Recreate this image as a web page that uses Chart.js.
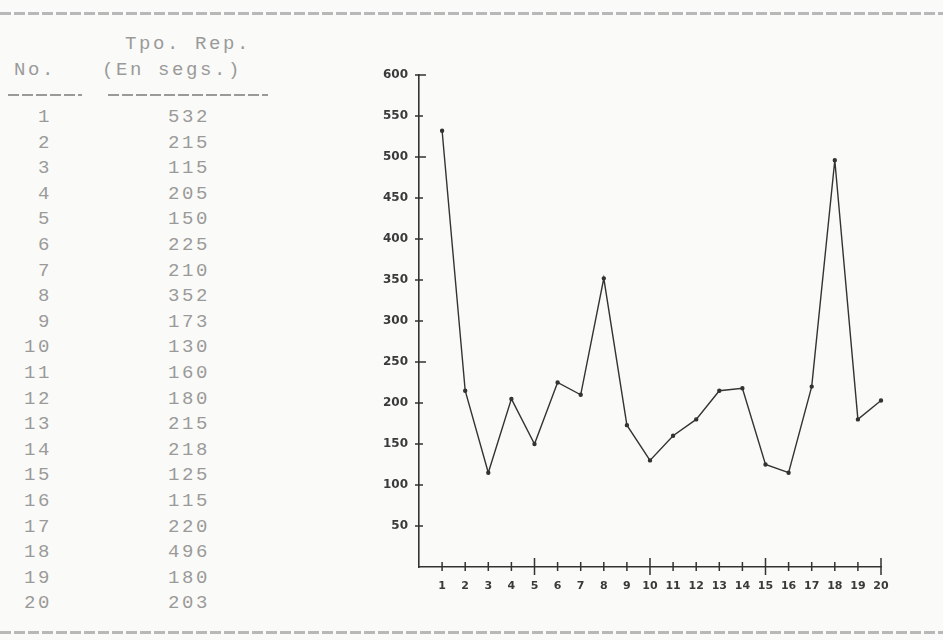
<!DOCTYPE html>
<html>
<head>
<meta charset="utf-8">
<script src="https://cdn.jsdelivr.net/npm/chart.js@4/dist/chart.umd.min.js"></script>
<style>
  body { margin: 0; background: #fafaf8; }
  #page { position: relative; width: 943px; height: 640px; overflow: hidden; background: #fafaf8; }
  .dash { position: absolute; left: 0; width: 943px; height: 3px;
          background: repeating-linear-gradient(90deg, #b8b8b8 0 11px, transparent 11px 14px); }
  .txt { position: absolute; font-family: "Liberation Mono", monospace; font-size: 19px;
         color: #9a9a9a; white-space: pre; line-height: 20px; letter-spacing: 2.6px; }
  .rule { position: absolute; height: 2px;
          background: repeating-linear-gradient(90deg, #9a9a9a 0 11px, transparent 11px 14px); }
  #chartBox { position: absolute; left: 350px; top: 50px; width: 580px; height: 560px; }
</style>
</head>
<body>
<div id="page">
  <div class="dash" style="top:12px"></div>
  <div class="dash" style="top:631px"></div>
  <div class="txt" style="left:125px; top:34px">Tpo. Rep.</div>
  <div class="txt" style="left:14px; top:60px">No.</div>
  <div class="txt" style="left:102px; top:60px">(En segs.)</div>
  <div class="rule" style="left:8px; top:94px; width:74px"></div>
  <div class="rule" style="left:108px; top:94px; width:160px"></div>
  <div id="rows"></div>
  <div id="chartBox"><canvas id="myChart"></canvas></div>
</div>
<script>
// Datos de la tabla y del grafico
var runNo = [1, 2, 3, 4, 5, 6, 7, 8, 9, 10, 11, 12, 13, 14, 15, 16, 17, 18, 19, 20];
var repTime = [532, 215, 115, 205, 150, 225, 210, 352, 173, 130, 160, 180, 215, 218, 125, 115, 220, 496, 180, 203];
var yTicks = [50, 100, 150, 200, 250, 300, 350, 400, 450, 500, 550, 600];

// Tabla de la izquierda
var rows = document.getElementById('rows');
for (var i = 0; i < runNo.length; i++) {
    var rowTop = 107 + i * 25.6;
    var a = document.createElement('div');
    a.className = 'txt';
    a.style.top = rowTop + 'px';
    a.style.left = '0px';
    a.style.width = '52px';
    a.style.textAlign = 'right';
    a.textContent = runNo[i];
    rows.appendChild(a);
    var b = document.createElement('div');
    b.className = 'txt';
    b.style.top = rowTop + 'px';
    b.style.left = '100px';
    b.style.width = '110px';
    b.style.textAlign = 'right';
    b.textContent = repTime[i];
    rows.appendChild(b);
}

// Marcas que cruzan los ejes
var crossTicks = {
    id: 'crossTicks',
    afterDraw: function(chart) {
        var c = chart.ctx;
        var xs = chart.scales.x, ys = chart.scales.y;
        var x0 = xs.getPixelForValue(0), y0 = ys.getPixelForValue(0);
        c.save();
        c.strokeStyle = '#333';
        c.lineWidth = 1.5;
        c.beginPath();
        runNo.forEach(function(n) {
            var px = xs.getPixelForValue(n);
            var h = (n % 5 === 0) ? 9 : 5;
            c.moveTo(px, y0 - h);
            c.lineTo(px, y0 + (n % 5 === 0 ? 8 : 4));
        });
        yTicks.forEach(function(v) {
            var py = ys.getPixelForValue(v);
            var w = (v === 500 || v === 250 || v === 600) ? 7 : 4;
            c.moveTo(x0 - 4, py);
            c.lineTo(x0 + w, py);
        });
        c.stroke();
        c.restore();
    }
};

var ctx = document.getElementById('myChart').getContext('2d');
var myChart = new Chart(ctx, {
    type: 'line',
    data: {
        datasets: [{
            label: 'Tpo. Rep. (En segs.)',
            data: runNo.map(function(n, i) { return { x: n, y: repTime[i] }; }),
            borderColor: '#333',
            backgroundColor: '#333',
            borderWidth: 1.4,
            pointRadius: 1.5,
            tension: 0,
            fill: false,
            clip: false
        }]
    },
    options: {
        responsive: true,
        maintainAspectRatio: false,
        animation: false,
        layout: { padding: { top: 25, right: 49, left: 0, bottom: 0 } },
        plugins: { legend: { display: false }, tooltip: { enabled: false } },
        scales: {
            x: {
                type: 'linear',
                min: 0,
                max: 20,
                afterFit: function(s) { s.height = 43; },
                afterBuildTicks: function(s) { s.ticks = runNo.map(function(n) { return { value: n }; }); },
                grid: { display: true, drawOnChartArea: false, drawTicks: false },
                border: { display: true, color: '#333', width: 1.6 },
                ticks: {
                    padding: 13,
                    color: '#3a3a3a',
                    font: { family: 'DejaVu Sans', size: 11, weight: 'bold' }
                }
            },
            y: {
                min: 0,
                max: 600,
                afterFit: function(s) { s.width = 69; },
                afterBuildTicks: function(s) { s.ticks = yTicks.map(function(v) { return { value: v }; }); },
                grid: { display: true, drawOnChartArea: false, drawTicks: false },
                border: { display: true, color: '#333', width: 1.6 },
                ticks: {
                    padding: 11,
                    color: '#3a3a3a',
                    font: { family: 'DejaVu Sans', size: 12, weight: 'bold' }
                }
            }
        }
    },
    plugins: [crossTicks]
});
</script>
</body>
</html>
